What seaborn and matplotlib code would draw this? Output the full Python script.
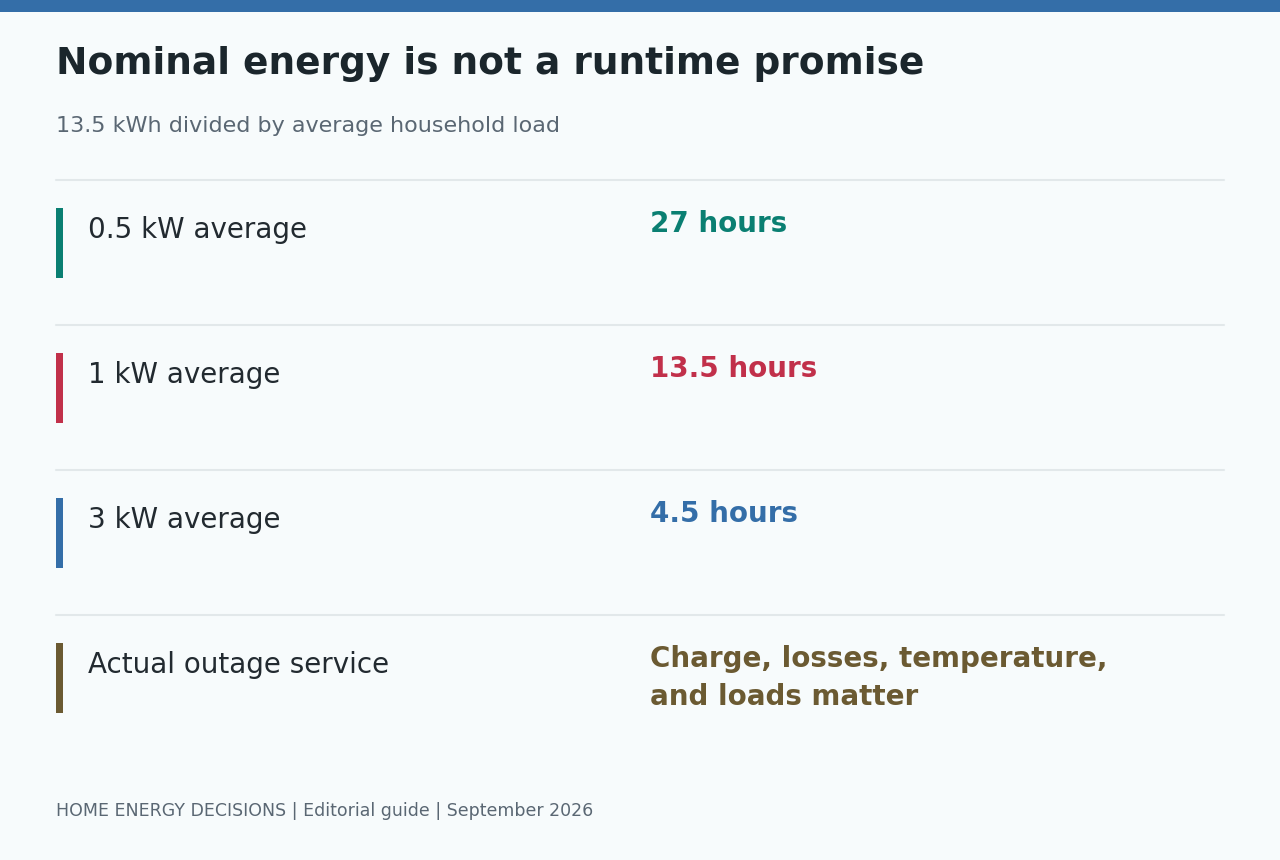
import matplotlib
matplotlib.use("Agg")
import matplotlib.pyplot as plt
import seaborn as sns

# data
labels = ["0.5 kW average", "1 kW average", "3 kW average", "Actual outage service"]
values = ["27 hours", "13.5 hours", "4.5 hours", "Charge, losses, temperature,\nand loads matter"]
colors = ["#0a7f72", "#c1304a", "#346ea8", "#6b5a32"]

title = "Nominal energy is not a runtime promise"
subtitle = "13.5 kWh divided by average household load"
footer = "HOME ENERGY DECISIONS | Editorial guide | September 2026"

sns.set_theme(style="white")
plt.rcParams["font.family"] = ["DejaVu Sans"]

fig = plt.figure(figsize=(12.8, 8.6), dpi=100)
fig.patch.set_facecolor("#f7fbfc")
ax = fig.add_axes([0, 0, 1, 1])
ax.set_facecolor("#f7fbfc")
ax.set_xlim(0, 1280)
ax.set_ylim(860, 0)
ax.axis("off")

# top band
ax.axhspan(0, 12, color="#346ea8", lw=0)

ax.text(56, 64, title, fontsize=27, fontweight="bold", color="#1b262c", va="center")
ax.text(56, 126, subtitle, fontsize=16, color="#5a6773", va="center")

row_h = 145
top = 180
for i, (lab, val, c) in enumerate(zip(labels, values, colors)):
    y0 = top + i * row_h
    ax.plot([56, 1224], [y0, y0], color="#e2e8ea", lw=1.5)
    ax.add_patch(plt.Rectangle((56, y0 + 28), 7, 70, color=c, lw=0))
    ax.text(88, y0 + 50, lab, fontsize=20, color="#222a30", va="center")
    ax.text(650, y0 + 30, val, fontsize=20, fontweight="bold", color=c,
            va="top", linespacing=1.45)

ax.text(56, 811, footer, fontsize=12.5, color="#5a6773", va="center")

fig.savefig("out.png", dpi=100, facecolor=fig.get_facecolor())
